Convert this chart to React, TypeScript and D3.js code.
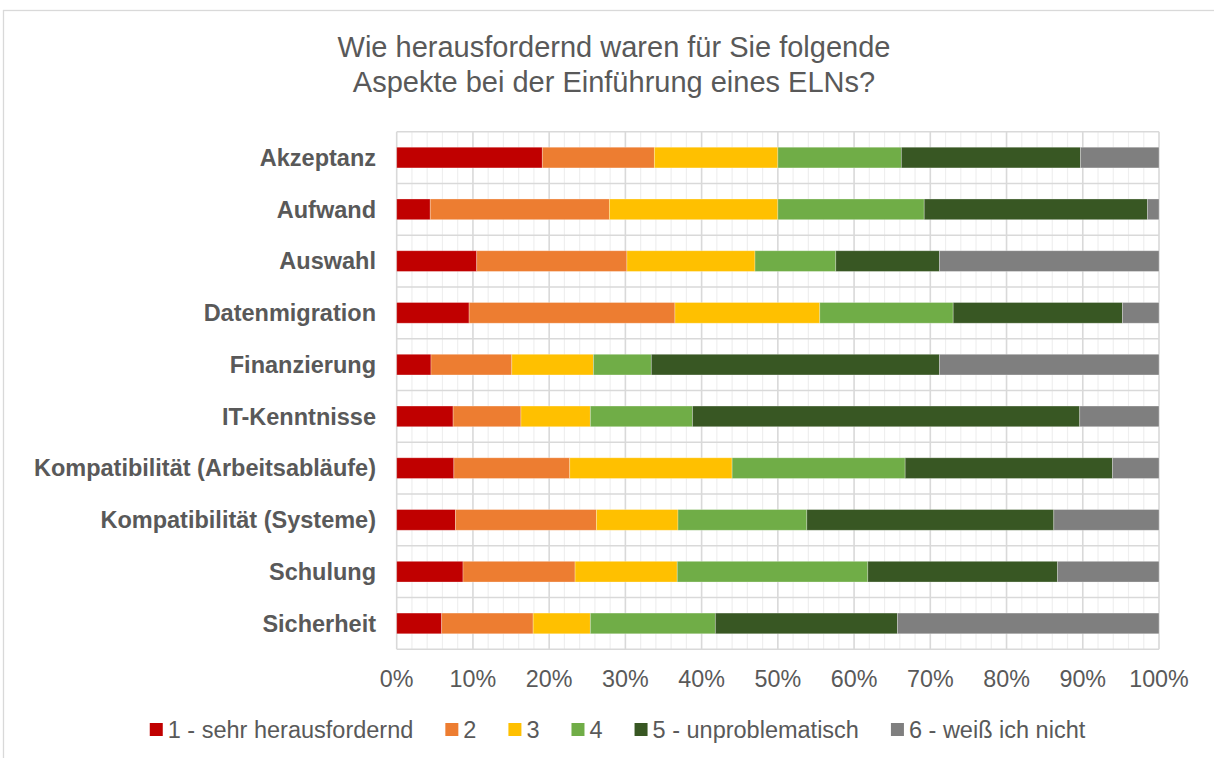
import React from "react";
import * as d3 from "d3";

const categories = [
  "Akzeptanz",
  "Aufwand",
  "Auswahl",
  "Datenmigration",
  "Finanzierung",
  "IT-Kenntnisse",
  "Kompatibilität (Arbeitsabläufe)",
  "Kompatibilität (Systeme)",
  "Schulung",
  "Sicherheit",
];

const seriesNames = [
  "1 - sehr herausfordernd",
  "2",
  "3",
  "4",
  "5 - unproblematisch",
  "6 - weiß ich nicht",
];

const s1 = [19.1, 4.4, 10.5, 9.5, 4.5, 7.4, 7.5, 7.7, 8.7, 5.9];
const s2 = [14.7, 23.5, 19.7, 27.0, 10.6, 8.9, 15.2, 18.5, 14.7, 12.0];
const s3 = [16.2, 22.1, 16.8, 19.0, 10.7, 9.1, 21.3, 10.7, 13.4, 7.5];
const s4 = [16.2, 19.2, 10.6, 17.5, 7.6, 13.4, 22.7, 16.9, 25.0, 16.4];
const s5 = [23.5, 29.3, 13.6, 22.2, 37.8, 50.8, 27.2, 32.4, 24.9, 23.9];
const s6 = [10.3, 1.5, 28.8, 4.8, 28.8, 10.4, 6.1, 13.8, 13.3, 34.3];

const xTicks = [0, 10, 20, 30, 40, 50, 60, 70, 80, 90, 100];
const titleLines = [
  "Wie herausfordernd waren für Sie folgende",
  "Aspekte bei der Einführung eines ELNs?",
];

const colors = ["#C00000", "#ED7D31", "#FFC000", "#70AD47", "#385723", "#7F7F7F"];

const W = 1214;
const H = 758;
const FONT = "'Liberation Sans', Arial, Helvetica, sans-serif";
const TEXT = "#595959";

const plot = { left: 396.7, right: 1159, top: 131.7, bottom: 649.3 };

function measure(text: string, size: number, weight = "normal") {
  const c = document.createElement("canvas").getContext("2d");
  if (!c) return text.length * size * 0.5;
  c.font = `${weight} ${size}px 'Liberation Sans', Arial, sans-serif`;
  return c.measureText(text).width;
}

export default function App() {
  const rows = categories.map((c, i) => ({
    cat: c,
    k0: s1[i],
    k1: s2[i],
    k2: s3[i],
    k3: s4[i],
    k4: s5[i],
    k5: s6[i],
  }));
  const keys = ["k0", "k1", "k2", "k3", "k4", "k5"];
  const stacked = d3.stack<any>().keys(keys)(rows);

  const x = d3.scaleLinear().domain([0, 100]).range([plot.left, plot.right]);
  const y = d3
    .scaleBand<string>()
    .domain(categories)
    .range([plot.top, plot.bottom])
    .paddingInner(0.6)
    .paddingOuter(0.3);

  const minorTicks = d3.range(0, 101, 2).filter((v) => v % 10 !== 0);
  const step = y.step();
  const bounds = d3.range(0, categories.length + 1).map((i) => plot.top + i * step);

  // legend layout
  const lfs = 23.5;
  const sq = 13;
  const sqGap = 5;
  const itemGap = 32;
  const widths = seriesNames.map((n) => sq + sqGap + measure(n, lfs));
  const total = d3.sum(widths) + itemGap * (seriesNames.length - 1);
  let lx = 617.5 - total / 2;
  const legendItems = seriesNames.map((n, i) => {
    const item = { name: n, x: lx, color: colors[i] };
    lx += widths[i] + itemGap;
    return item;
  });

  return (
    <svg
      width={W}
      height={H}
      style={{ position: "absolute", left: 0, top: 0, background: "#fff" }}
      fontFamily={FONT}
    >
      <rect x={0} y={0} width={W} height={H} fill="#fff" />
      <rect x={3.5} y={10.5} width={1240} height={800} fill="#fff" stroke="#d9d9d9" strokeWidth={1.3} />

      {/* Title */}
      <text x={614} textAnchor="middle" fill={TEXT} fontSize={29}>
        {titleLines.map((t, i) => (
          <tspan key={i} x={614} y={57 + i * 35}>
            {t}
          </tspan>
        ))}
      </text>

      {/* minor vertical gridlines */}
      {minorTicks.map((t) => (
        <line key={"m" + t} x1={x(t)} x2={x(t)} y1={plot.top} y2={plot.bottom} stroke="#efefef" strokeWidth={1.2} />
      ))}
      {/* horizontal gridlines */}
      {bounds.map((b, i) => (
        <line key={"h" + i} x1={plot.left} x2={plot.right} y1={b} y2={b} stroke="#d9d9d9" strokeWidth={1.6} />
      ))}
      {/* major vertical gridlines */}
      {xTicks.map((t) => (
        <line key={"M" + t} x1={x(t)} x2={x(t)} y1={plot.top} y2={plot.bottom} stroke="#d9d9d9" strokeWidth={1.6} />
      ))}

      {/* bars */}
      {stacked.map((layer, si) => (
        <g key={layer.key} fill={colors[si]}>
          {layer.map((d: any) => (
            <rect
              key={d.data.cat}
              x={x(d[0])}
              y={y(d.data.cat)}
              width={Math.max(0, x(d[1]) - x(d[0]))}
              height={y.bandwidth()}
              stroke="rgba(255,255,255,0.35)"
              strokeWidth={0.8}
            />
          ))}
        </g>
      ))}

      {/* category labels */}
      {categories.map((c) => (
        <text
          key={c}
          x={376}
          y={(y(c) as number) + y.bandwidth() / 2 + 8.3}
          textAnchor="end"
          fontWeight="bold"
          fontSize={23.5}
          fill={TEXT}
        >
          {c}
        </text>
      ))}

      {/* x tick labels */}
      {xTicks.map((t) => (
        <text key={"t" + t} x={x(t)} y={686.5} textAnchor="middle" fontSize={23.3} fill={TEXT}>
          {t}%
        </text>
      ))}

      {/* legend */}
      {legendItems.map((it) => (
        <g key={it.name}>
          <rect x={it.x} y={723} width={sq} height={sq} fill={it.color} />
          <text x={it.x + sq + sqGap} y={737.5} fontSize={lfs} fill={TEXT}>
            {it.name}
          </text>
        </g>
      ))}
    </svg>
  );
}
